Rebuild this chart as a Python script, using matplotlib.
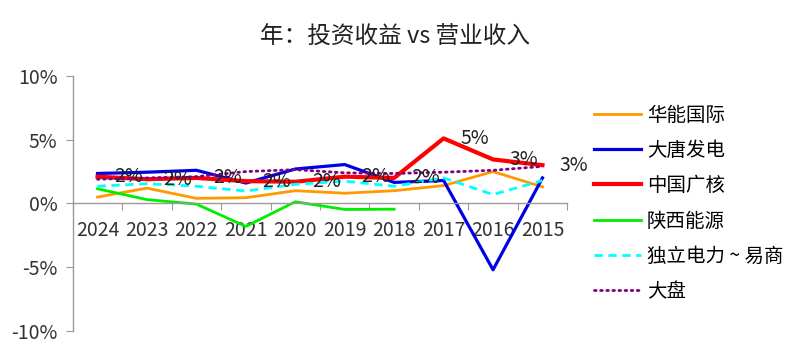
import numpy as np
import matplotlib
matplotlib.use('Agg')
import matplotlib.pyplot as plt

plt.rcParams['font.family'] = ['Noto Sans CJK SC', 'DejaVu Sans']

# 年份（从新到旧）
years = ['2024', '2023', '2022', '2021', '2020', '2019', '2018', '2017', '2016', '2015']

# 投资收益 / 营业收入 (%)
huaneng = [0.5, 1.2, 0.4, 0.45, 1.0, 0.8, 1.0, 1.4, 2.5, 1.3]
datang = [2.35, 2.45, 2.6, 1.6, 2.7, 3.05, 1.65, 1.8, -5.2, 2.0]
cgn = [2.1, 1.9, 2.0, 1.75, 1.7, 2.1, 2.0, 5.1, 3.45, 3.0]
shaanxi = [1.15, 0.3, -0.05, -1.8, 0.13, -0.47, -0.45, np.nan, np.nan, np.nan]
duli = [1.35, 1.55, 1.35, 0.97, 1.5, 1.75, 1.35, 2.0, 0.7, 1.8]
dapan = [1.9, 2.0, 2.1, 2.5, 2.65, 2.4, 2.35, 2.45, 2.6, 2.9]

fig = plt.figure(figsize=(8, 3.53), dpi=100)
ax = fig.add_axes([0.091, 0.0623, 0.618, 0.7227])

x = np.arange(len(years))
ax.plot(x, huaneng, color='#FF9900', lw=2.0, label='华能国际')
ax.plot(x, datang, color='#0000E6', lw=2.3, label='大唐发电')
ax.plot(x, cgn, color='#FF0000', lw=3.0, label='中国广核')
ax.plot(x, shaanxi, color='#00EE00', lw=2.0, label='陕西能源')
ax.plot(x, duli, color='#00FFFF', lw=2.0, ls=(0, (3, 2)), label='独立电力 ~ 易商')
ax.plot(x, dapan, color='#800080', lw=2.0, ls=(0, (0.6, 1.6)), dash_capstyle='round', label='大盘')

# 数据标签（中国广核）
for xi, v in zip(x, cgn):
    ax.annotate('%d%%' % round(v), (xi, v), xytext=(12, 0), textcoords='offset points',
                ha='left', va='center', fontsize=14, color='#222222')

ax.set_xlim(-0.5, len(years) - 0.5)
ax.set_ylim(-10, 10)
ax.set_yticks([-10, -5, 0, 5, 10])
ax.set_yticklabels(['%d%%' % t for t in [-10, -5, 0, 5, 10]], fontsize=14, color='#333333')

ax.set_xticks(np.arange(-0.5, len(years)), labels=[])
ax.set_xticks(x, minor=True)
ax.set_xticklabels(years, minor=True)
ax.tick_params(axis='x', which='major', length=5, color='#999999', direction='out')
ax.tick_params(axis='x', which='minor', length=0, pad=12, labelsize=14, labelcolor='#333333')
ax.tick_params(axis='y', length=5, color='#999999', pad=6)

ax.spines['bottom'].set_position(('data', 0))
for s in ['top', 'right']:
    ax.spines[s].set_visible(False)
for s in ['left', 'bottom']:
    ax.spines[s].set_color('#999999')
    ax.spines[s].set_linewidth(1.0)

fig.text(0.494, 0.895, '年：投资收益 vs 营业收入', ha='center', va='center', fontsize=17, color='#222222')

fig.legend(loc='upper left', bbox_to_anchor=(0.733, 0.725), frameon=False, fontsize=14,
           handlelength=2.4, labelspacing=0.73, handletextpad=0.3, borderaxespad=0)

fig.savefig('out.png', dpi=100)
